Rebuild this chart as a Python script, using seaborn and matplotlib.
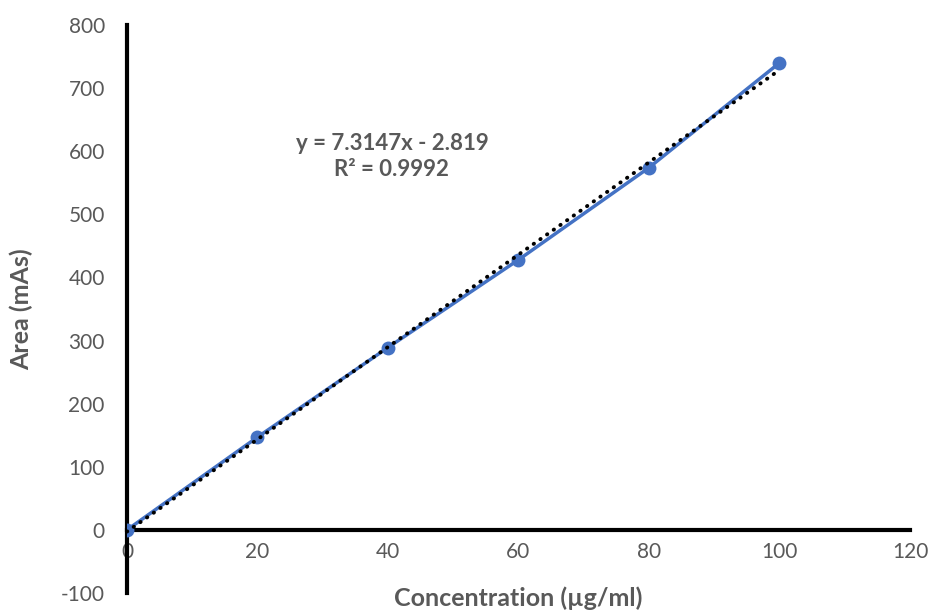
import numpy as np
import pandas as pd
import matplotlib
matplotlib.use('Agg')
import matplotlib.pyplot as plt
import seaborn as sns

# Dados da curva de calibração
concentracao = [0, 20, 40, 60, 80, 100]
area = [0, 147, 289, 428, 574, 740]
x_ticks = [0, 20, 40, 60, 80, 100, 120]
y_ticks = [-100, 0, 100, 200, 300, 400, 500, 600, 700, 800]
equacao = "y = 7.3147x - 2.819\nR\u00b2 = 0.9992"

sns.set_style('white')
plt.rcParams['font.family'] = ['Lato', 'DejaVu Sans']
plt.rcParams['axes.unicode_minus'] = False

cinza = '#595959'
azul = '#4472C4'

df = pd.DataFrame({'Concentracao': concentracao, 'Area': area})

fig = plt.figure(figsize=(9.31, 6.16), dpi=100)
ax = fig.add_axes([0.1364, 0.0373, 0.8410, 0.9221])

sns.lineplot(data=df, x='Concentracao', y='Area', ax=ax, color=azul,
             linewidth=2.5, marker='o', markersize=10, markeredgewidth=0, zorder=3)
sns.regplot(data=df, x='Concentracao', y='Area', ax=ax, scatter=False, ci=None,
            line_kws={'color': 'black', 'linewidth': 2.8,
                      'linestyle': (0, (0.1, 2.0)), 'dash_capstyle': 'round',
                      'zorder': 4})

ax.set_xlim(0, 120)
ax.set_ylim(-100, 800)
ax.set_xticks(x_ticks)
ax.set_yticks(y_ticks)

# Eixos estilo Excel
ax.spines['bottom'].set_position(('data', 0))
ax.spines['top'].set_visible(False)
ax.spines['right'].set_visible(False)
for s in ['left', 'bottom']:
    ax.spines[s].set_linewidth(3)
    ax.spines[s].set_color('black')

ax.tick_params(axis='both', direction='out', length=4, width=3, color='black',
               labelcolor=cinza, labelsize=15)
ax.tick_params(axis='x', pad=5)
ax.tick_params(axis='y', pad=12)

ax.set_xlabel('Concentration (\u00b5g/ml)', fontsize=18, fontweight='bold', color=cinza)
ax.set_ylabel('Area (mAs)', fontsize=18, fontweight='bold', color=cinza)
ax.xaxis.set_label_coords(0.5, 0.012)
ax.yaxis.set_label_coords(-0.12, 0.5)

ax.text(40.6, 591, equacao, ha='center', va='center', fontsize=16,
        fontweight='bold', color=cinza, linespacing=1.3)

ax.grid(False)
fig.savefig('out.png', dpi=100)
